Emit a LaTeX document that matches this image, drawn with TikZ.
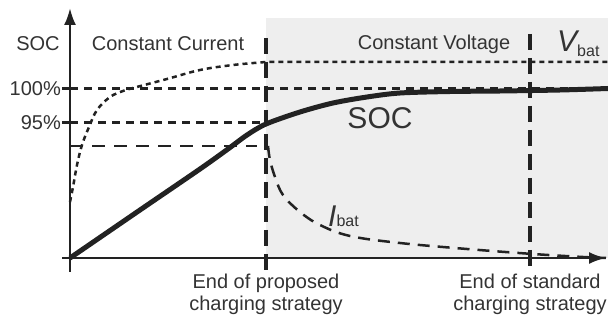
\documentclass[tikz,border=0pt]{standalone}
\usepackage{fontspec}
\setmainfont{Liberation Sans}
\usepackage{tikz}
\usetikzlibrary{arrows.meta}

\definecolor{ink}{HTML}{222222}
\definecolor{txt}{HTML}{333333}
\definecolor{cvzone}{HTML}{EEEEEE}

\tikzset{
  axis/.style={ink, line width=2.5pt, -{Latex[length=17pt, width=12pt]}},
  soccurve/.style={ink, line width=5pt},
  endline/.style={ink, line width=4.5pt, dash pattern=on 16pt off 8pt},
  levelline/.style={ink, line width=3pt, dash pattern=on 8pt off 6pt},
  limitline/.style={ink, line width=2.5pt, dash pattern=on 13pt off 9pt},
  vbatline/.style={ink, line width=2.5pt, dash pattern=on 5pt off 4pt},
  ibatline/.style={ink, line width=2.5pt, dash pattern=on 12pt off 8pt},
  lbl/.style={txt, inner sep=0pt, font=\fontsize{20}{22}\selectfont},
}

\begin{document}
\begin{tikzpicture}[x=1pt, y=-1pt]
  \useasboundingbox (0,0) rectangle (608,320);
  \fill[cvzone] (266,18) rectangle (608,258); % constant voltage zone

  % reference levels
  \draw[levelline] (70,89) -- (608,89); % 100%
  \draw[levelline] (70,123) -- (266,123); % 95%
  \draw[limitline] (70,146) -- (257,146);
  \draw[ink, line width=3pt] (62,89) -- (78,89);
  \draw[ink, line width=3pt] (62,123) -- (78,123);

  % V_bat
  \draw[vbatline] plot[smooth, tension=0.6] coordinates {(70,202) (73,187) (77,165) (82,145) (89,127) (97,110) (110,97) (123,91) (133,88) (167,79) (200,70) (233,65) (266,62)} -- (608,62);

  % I_bat
  \draw[ibatline] plot[smooth, tension=0.6] coordinates {(268,146) (270,160) (275,177) (283,195) (300,212) (320,225) (350,236) (400,243) (467,249) (533,254) (583,257) (606,258)};

  % SOC
  \draw[soccurve] plot[smooth, tension=0.5] coordinates {(70,258) (140,210) (200,169) (228,149) (247,135) (266,124) (300,112) (333,103) (367,97) (400,93) (450,91.5) (500,91) (560,90) (608,88.5)};

  % end of strategies
  \draw[endline] (266,38) -- (266,272);
  \draw[endline] (530,34) -- (530,272);

  % axes
  \draw[axis] (70,272) -- (70,8);
  \draw[axis] (62,258) -- (606,258);

  \node[lbl] (ylabel) at (38,44) {SOC};
  \node[lbl] (cc) at (168,44) {Constant Current};
  \node[lbl] (cv) at (434,44) {Constant Voltage};
  \node[lbl, anchor=base west] (vbat) at (557,52) {{\fontsize{30}{30}\selectfont\itshape V}\raisebox{-5pt}{\fontsize{16}{16}\selectfont bat}};
  \node[lbl, anchor=east] (full) at (61,89) {100\%};
  \node[lbl, anchor=east] (ninetyfive) at (61,123) {95\%};
  \node[lbl, font=\fontsize{30}{30}\selectfont] (soc) at (380,118) {SOC};
  \node[lbl, anchor=base west] (ibat) at (328,227) {{\fontsize{30}{30}\selectfont\itshape I}{\fontsize{16}{16}\selectfont bat}};
  \node[lbl, align=center] (proposed) at (266,294) {End of proposed\\charging strategy};
  \node[lbl, align=center] (standard) at (530,294) {End of standard\\charging strategy};
\end{tikzpicture}
\end{document}
